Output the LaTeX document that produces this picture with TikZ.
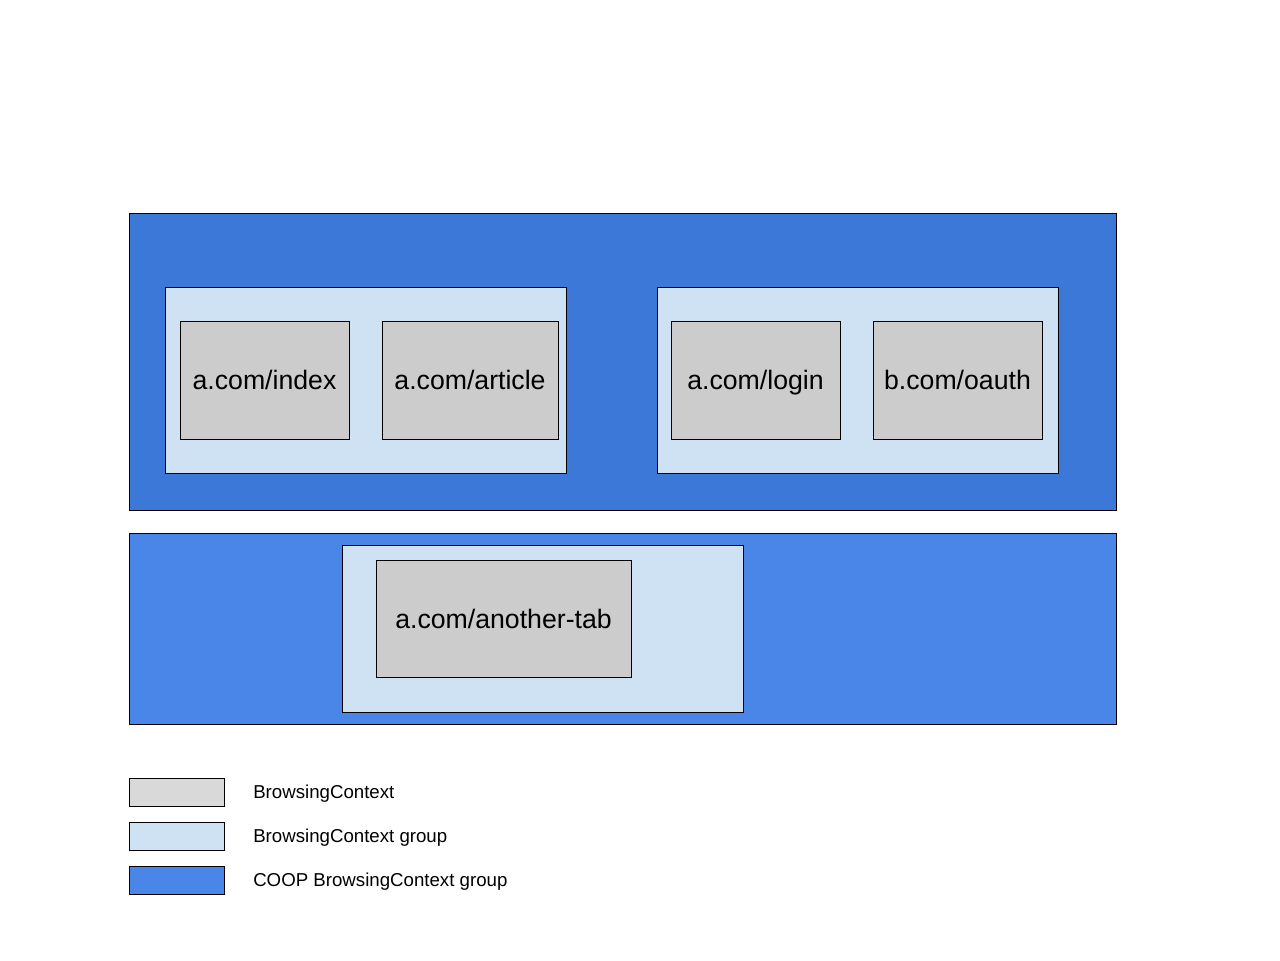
\documentclass[tikz,border=0pt]{standalone}
\usepackage{fontspec}
\setmainfont{Liberation Sans}
\definecolor{coopA}{HTML}{3C78D8}
\definecolor{coopB}{HTML}{4A86E8}
\definecolor{grp}{HTML}{CFE2F3}
\definecolor{ctx}{HTML}{CCCCCC}
\definecolor{ctxleg}{HTML}{D9D9D9}
\begin{document}
\begin{tikzpicture}[x=0.75pt,y=-0.75pt,
  box/.style={draw=black,line width=0.75pt,rectangle,inner sep=0pt,anchor=center},
  coop/.style={box},
  grpbox/.style={box,fill=grp,minimum width=300.75pt},
  ctxbox/.style={box,fill=ctx,minimum height=88.5pt,text height=14.25pt,text depth=0pt,font=\fontsize{20}{24}\selectfont},
  legbox/.style={box,minimum width=71.25pt,minimum height=21pt},
  legtext/.style={anchor=base west,inner sep=0pt,font=\fontsize{14}{17}\selectfont}]
\useasboundingbox (0,0) rectangle (1280,960);
\fill[white] (0,0) rectangle (1280,960);
% COOP groups
\node[coop,fill=coopA,minimum width=740.25pt,minimum height=222.75pt] (coop1) at (622.5,361.5) {};
\node[coop,fill=coopB,minimum width=740.25pt,minimum height=143.25pt] (coop2) at (622.5,628.5) {};
% BrowsingContext groups
\node[grpbox,minimum height=139.5pt] (g1) at (365.5,380) {};
\node[grpbox,minimum height=139.5pt] (g2) at (857.5,380) {};
\node[grpbox,minimum height=125.25pt] (g3) at (542.5,628.5) {};
% BrowsingContexts
\node[ctxbox,minimum width=126.75pt] (index) at (264.5,380) {a.com/index};
\node[ctxbox,minimum width=132pt] (article) at (470,380) {a.com/article};
\node[ctxbox,minimum width=126.75pt] (login) at (755.5,380) {a.com/login};
\node[ctxbox,minimum width=126.75pt] (oauth) at (957.5,380) {b.com/oauth};
\node[ctxbox,minimum width=191.25pt,minimum height=87.75pt] (tab) at (503.5,618.5) {a.com/another-tab};
% Legend
\node[legbox,fill=ctxleg] (l1) at (176.5,792) {};
\node[legbox,fill=grp] (l2) at (176.5,836) {};
\node[legbox,fill=coopB] (l3) at (176.5,880) {};
\node[legtext] (t1) at (253,798.5) {BrowsingContext};
\node[legtext] (t2) at (253,842.5) {BrowsingContext group};
\node[legtext] (t3) at (253,886.5) {COOP BrowsingContext group};
\end{tikzpicture}
\end{document}
